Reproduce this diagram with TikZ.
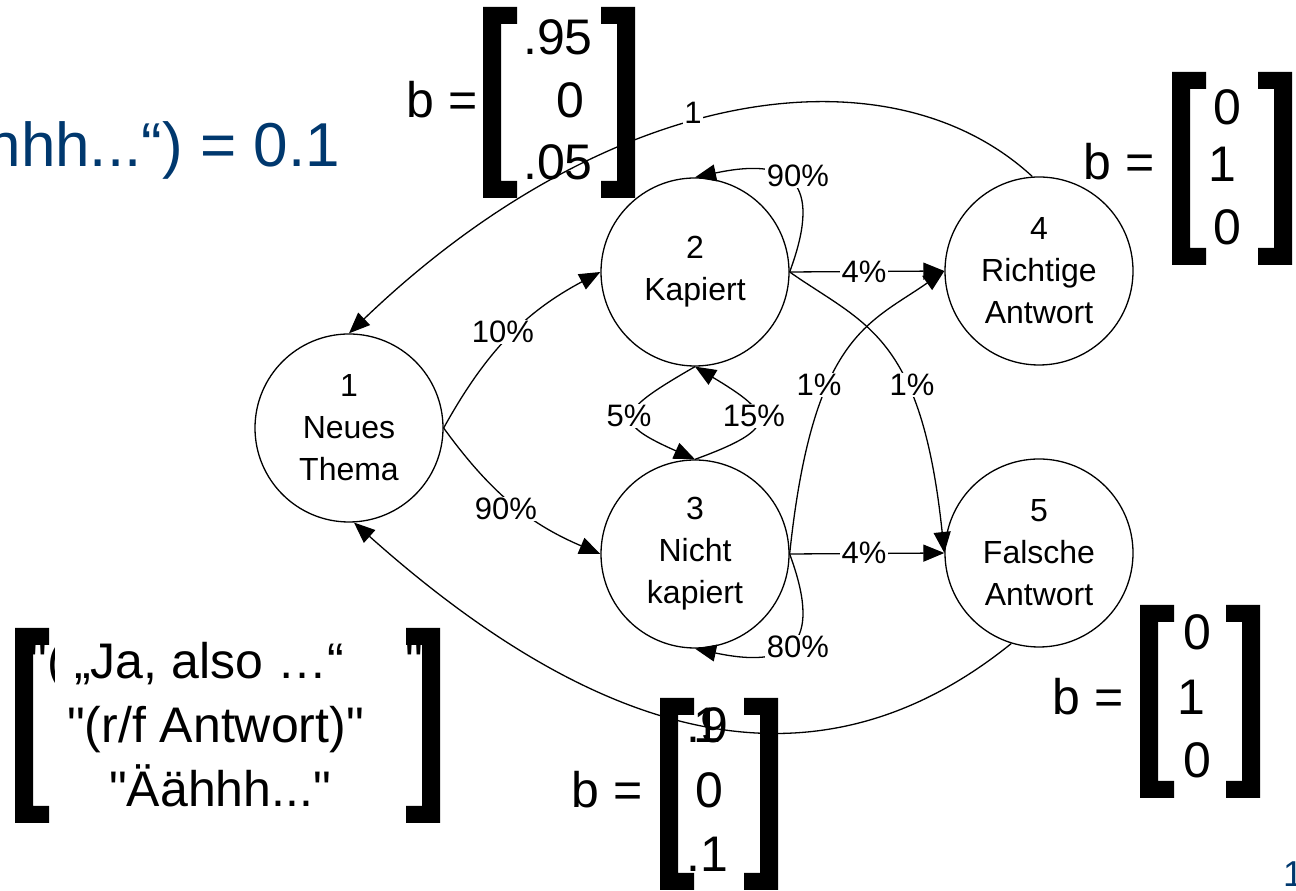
\documentclass[tikz,border=0pt]{standalone}
\usepackage{fontspec}
\setmainfont{Liberation Sans}
% same family without the TeX quote mapping, so " stays a straight quote
\newfontfamily\plainsans{Liberation Sans}
\usetikzlibrary{arrows.meta}
\definecolor{slideblue}{RGB}{0,56,110}
\tikzset{
  state/.style={circle, draw, line width=1.3pt, fill=white, minimum size=188pt,
    inner sep=0pt, align=center, font=\fontsize{32}{42}\selectfont},
  trans/.style={line width=1.3pt, -{Triangle[length=21pt,width=17pt]}},
  prob/.style={fill=white, inner sep=1.5pt, font=\fontsize{31}{36}\selectfont},
  big/.style={font=\plainsans\fontsize{50}{60}\selectfont, inner sep=0pt},
}
% thick matrix brackets: outer x, top y, bottom y
\newcommand{\leftbrk}[3]{\fill (#1,#2) -- ({#1+34},#2) -- ({#1+34},{#2-17}) -- ({#1+18},{#2-17})
  -- ({#1+18},{#3+17}) -- ({#1+34},{#3+17}) -- ({#1+34},#3) -- (#1,#3) -- cycle;}
\newcommand{\rightbrk}[3]{\fill (#1,#2) -- ({#1-34},#2) -- ({#1-34},{#2-17}) -- ({#1-18},{#2-17})
  -- ({#1-18},{#3+17}) -- ({#1-34},{#3+17}) -- ({#1-34},#3) -- (#1,#3) -- cycle;}
\begin{document}
\begin{tikzpicture}[x=1pt,y=1pt]
\useasboundingbox (0,0) rectangle (1296,891);
\clip (0,0) rectangle (1296,891);

% states
\node[state] (n1) at (349,463) {1\\Neues\\Thema};
\node[state] (n2) at (695,619) {2\\Kapiert};
\node[state] (n3) at (695,337) {3\\Nicht\\kapiert};
\node[state] (n4) at (1039,620) {4\\Richtige\\Antwort};
\node[state] (n5) at (1039,338) {5\\Falsche\\Antwort};

% transitions
\draw[trans] (n1.east) to[out=61,in=208] (n2.west);
\draw[trans] (n1.east) to[out=-54,in=157] (n3.west);
\draw[trans] (n2.south) .. controls +(210:92) and +(156:92) .. (n3.north);
\draw[trans] (n3.north) .. controls +(20:92) and +(-31:92) .. (n2.south);
\draw[trans] (n2.east) .. controls (820,701) and (800,736) .. (n2.north);
\draw[trans] (n3.east) .. controls (820,255) and (800,220) .. (n3.south);
\draw[trans] (n2.east) -- (n4.west);
\draw[trans] (n3.east) -- (n5.west);
\draw[trans] (n3.east) .. controls +(84:220) and +(215:92) .. (n4.west);
\draw[trans] (n2.east) .. controls +(-35:92) and +(96:220) .. (n5.west);
\draw[trans] (n4.94) .. controls (890,846) and (610,808) .. (n1.north);
\draw[trans] (n5.-107) .. controls (830,101) and (620,131) .. (n1.-87);

% transition probabilities
\node[prob] (p12) at (503,559) {10\%};
\node[prob] (p13) at (506,382) {90\%};
\node[prob] (p23) at (629,475) {5\%};
\node[prob] (p32) at (754,475) {15\%};
\node[prob] (p34) at (819,506) {1\%};
\node[prob] (p25) at (912,506) {1\%};
\node[prob] (p24) at (864,619) {4\%};
\node[prob] (p35) at (864,338) {4\%};
\node[prob] (p22) at (798,715) {90\%};
\node[prob] (p33) at (798,244) {80\%};
\node[prob] (p41) at (693,778) {1};

% belief vectors
\leftbrk{483}{884}{693}\rightbrk{635}{884}{693}
\node[big, anchor=base east] (b2) at (478,773) {b =};
\node[big, anchor=base] (b2a) at (558,836) {.95};
\node[big, anchor=base] (b2b) at (570,773) {0};
\node[big, anchor=base] (b2c) at (558,711) {.05};

\leftbrk{1172}{819}{626}\rightbrk{1292}{819}{626}
\node[big, anchor=base east] (b4) at (1155,711) {b =};
\node[big, anchor=base] (b4a) at (1227,766) {0};
\node[big, anchor=base] (b4b) at (1222,709) {1};
\node[big, anchor=base] (b4c) at (1227,646) {0};

\leftbrk{1140}{286}{93}\rightbrk{1260}{286}{93}
\node[big, anchor=base east] (b5) at (1124,176) {b =};
\node[big, anchor=base] (b5a) at (1197,241) {0};
\node[big, anchor=base] (b5b) at (1191,176) {1};
\node[big, anchor=base] (b5c) at (1197,113) {0};

\leftbrk{660}{193}{1}\rightbrk{778}{193}{1}
\node[big, anchor=base east] (b3) at (643,83) {b =};
\node[big, anchor=base west] (b3a) at (686,148) {.9};
\node[big, anchor=base west] (b3x) at (693,148) {1};
\node[big, anchor=base] (b3b) at (709,83) {0};
\node[big, anchor=base west] (b3c) at (686,19) {.1};

% observation vector
\leftbrk{15}{263}{68}\rightbrk{440}{263}{68}
\node[big, anchor=base west] (o1a) at (29.5,212) {"(};
\node[big, anchor=base west, fill=white, inner xsep=19pt, inner ysep=4pt] (o1) at (55,212) {„Ja, also …“};
\node[big, anchor=base west] (o1b) at (405.5,212) {"};
\node[big, anchor=base] (o2) at (215.5,148) {"(r/f Antwort)"};
\node[big, anchor=base] (o3) at (220,84) {"Äähhh..."};

% slide text
\node[anchor=base east, text=slideblue, font=\fontsize{62}{70}\selectfont, inner sep=0pt] (cond) at (340,724) {hhh...“) = 0.1};
\node[anchor=north west, text=slideblue, font=\fontsize{36}{40}\selectfont, inner sep=0pt] (page) at (1283,29) {1};
\end{tikzpicture}
\end{document}
